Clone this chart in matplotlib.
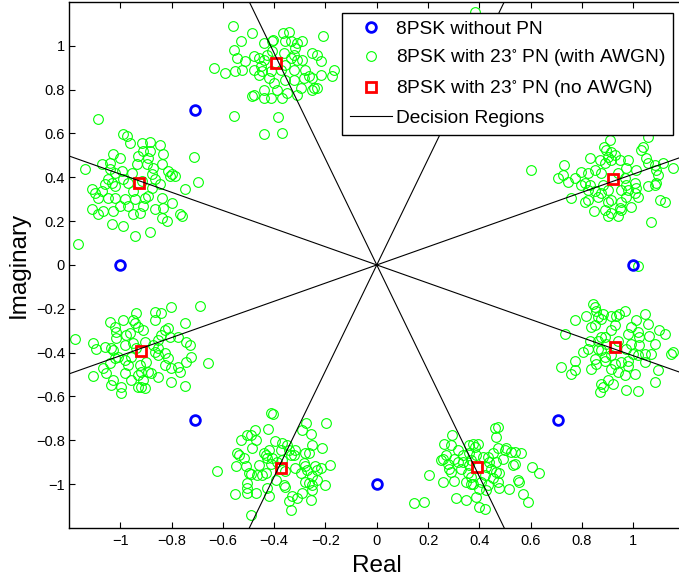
import numpy as np
import matplotlib
matplotlib.use("Agg")
import matplotlib.pyplot as plt
from matplotlib.ticker import FuncFormatter

plt.rcParams['font.family'] = ['Liberation Sans', 'DejaVu Sans']
plt.rcParams['mathtext.fontset'] = 'custom'
plt.rcParams['mathtext.rm'] = 'Liberation Sans'
plt.rcParams['mathtext.fallback'] = 'stixsans'

# ideal 8PSK points (no phase noise)
psk_x = [1.0, 0.707, 0.0, -0.707, -1.0, -0.707, 0.0, 0.707]
psk_y = [0.0, 0.707, 1.0, 0.707, 0.0, -0.707, -1.0, -0.707]

# 8PSK rotated by 23 deg phase noise, no AWGN (angles 23, 68, 113, ... deg)
pn_x = [0.921, 0.375, -0.391, -0.927, -0.921, -0.375, 0.391, 0.927]
pn_y = [0.391, 0.927, 0.921, 0.375, -0.391, -0.927, -0.921, -0.375]

# decision region boundaries (deg)
boundary_angles = [22.5, 67.5, 112.5, 157.5]

# AWGN samples, as offsets from each rotated point
awgn_23 = [(-0.013, 0.179), (-0.035, 0.149), (-0.026, 0.134), (-0.006, 0.126), (-0.019, 0.103),
           (-0.091, 0.096), (-0.052, 0.088), (-0.032, 0.073), (-0.006, 0.088), (0.006, 0.111),
           (0.026, 0.088), (0.058, 0.088), (0.117, 0.149), (0.110, 0.134), (0.130, 0.096),
           (0.136, 0.073), (0.162, 0.065), (0.195, 0.073), (0.234, 0.050), (0.169, 0.043),
           (0.175, 0.020), (0.169, -0.018), (0.162, -0.026), (0.136, -0.033), (0.084, -0.018),
           (0.091, -0.041), (0.084, -0.064), (0.097, -0.079), (0.071, -0.125), (0.026, -0.132),
           (0.032, -0.140), (-0.006, -0.155), (0.019, -0.170), (-0.019, -0.170), (-0.032, -0.140),
           (-0.074, -0.143), (-0.110, -0.102), (-0.097, -0.094), (-0.058, -0.079), (-0.045, -0.064),
           (-0.071, -0.056), (-0.097, -0.049), (-0.162, -0.087), (-0.214, 0.005), (-0.195, 0.020),
           (-0.175, -0.011), (-0.149, 0.005), (-0.123, 0.035), (-0.097, 0.027), (-0.071, 0.043),
           (-0.110, -0.018), (-0.091, -0.026), (-0.123, -0.026), (-0.045, 0.027), (-0.039, -0.026),
           (-0.019, -0.049), (-0.006, -0.094), (-0.019, -0.102), (0.045, 0.005), (0.052, -0.026),
           (0.058, -0.049), (0.052, -0.079), (0.032, -0.102), (0.032, -0.049), (0.091, 0.043),
           (0.052, 0.050), (0.019, 0.027), (-0.318, 0.043), (-0.191, 0.065), (0.149, -0.193),
           (0.182, -0.097), (0.201, -0.102), (0.097, -0.398), (0.136, 0.192)]

# mostly hidden behind the legend
awgn_68 = [(0.009, 0.227)]

awgn_113 = [(-0.169, 0.167), (-0.097, 0.137), (-0.138, 0.099), (-0.164, 0.061), (-0.153, 0.023),
            (-0.121, 0.008), (-0.134, -0.030), (-0.160, -0.038), (-0.199, -0.046), (-0.244, -0.023),
            (-0.088, 0.030), (-0.069, 0.023), (-0.049, 0.091), (-0.017, 0.099), (-0.013, 0.106),
            (0.026, 0.137), (0.048, 0.141), (0.035, 0.099), (0.055, 0.099), (0.081, 0.091),
            (0.100, 0.099), (0.074, 0.068), (0.182, 0.122), (0.139, 0.046), (0.159, 0.038),
            (0.172, 0.008), (0.100, 0.015), (0.081, 0.015), (0.055, 0.023), (0.029, 0.046),
            (-0.017, 0.053), (-0.036, 0.038), (-0.049, 0.015), (-0.062, -0.015), (-0.088, -0.030),
            (-0.069, -0.053), (-0.056, -0.038), (-0.023, -0.038), (0.016, -0.030), (0.035, -0.008),
            (0.068, -0.030), (0.113, -0.030), (0.126, -0.061), (0.107, -0.068), (0.139, -0.068),
            (0.172, -0.053), (0.224, -0.030), (0.217, -0.061), (0.146, -0.114), (0.159, -0.114),
            (0.139, -0.122), (0.094, -0.114), (0.081, -0.144), (0.042, -0.137), (0.022, -0.160),
            (0.003, -0.122), (-0.023, -0.160), (-0.049, -0.160), (-0.049, -0.122), (-0.095, -0.152),
            (-0.166, -0.243), (0.006, -0.246), (-0.049, -0.324), (0.022, -0.319), (0.035, -0.076),
            (0.068, -0.076), (-0.010, -0.091), (-0.030, -0.068), (-0.088, -0.144), (0.068, 0.038)]

awgn_158 = [(-0.159, 0.289), (-0.061, 0.220), (-0.048, 0.213), (-0.035, 0.182), (-0.211, 0.061),
            (-0.146, 0.084), (-0.113, 0.091), (-0.100, 0.129), (-0.074, 0.114), (0.010, 0.182),
            (0.043, 0.186), (0.017, 0.144), (0.043, 0.144), (0.082, 0.170), (0.095, 0.129),
            (-0.003, 0.122), (0.036, 0.114), (-0.009, 0.084), (0.030, 0.084), (0.056, 0.068),
            (0.088, 0.084), (0.114, 0.053), (0.127, 0.038), (0.140, 0.030), (0.121, 0.030),
            (-0.029, 0.046), (-0.068, 0.053), (-0.113, 0.061), (-0.094, 0.046), (-0.120, 0.015),
            (-0.107, 0.000), (-0.094, -0.015), (-0.133, -0.008), (-0.061, 0.015), (-0.042, 0.000),
            (0.049, 0.038), (0.062, 0.015), (0.049, -0.023), (0.036, -0.061), (0.082, -0.008),
            (0.010, 0.008), (-0.022, -0.038), (-0.185, -0.030), (-0.172, -0.046), (-0.146, -0.038),
            (-0.159, -0.068), (-0.120, -0.068), (-0.094, -0.068), (-0.055, -0.076), (-0.016, -0.076),
            (0.023, -0.068), (0.088, -0.068), (0.127, -0.091), (-0.074, -0.106), (-0.042, -0.106),
            (0.017, -0.106), (0.095, -0.114), (-0.185, -0.122), (-0.139, -0.129), (-0.159, -0.144),
            (-0.100, -0.129), (-0.022, -0.144), (0.004, -0.137), (0.062, -0.122), (0.088, -0.160),
            (0.108, -0.175), (0.160, -0.144), (0.166, -0.152), (-0.107, -0.190), (-0.061, -0.198),
            (-0.016, -0.243), (0.043, -0.225), (0.179, -0.030), (0.231, 0.005), (0.214, 0.116),
            (-0.239, -0.278)]

awgn_203 = [(-0.255, 0.053), (-0.186, 0.036), (-0.173, 0.006), (-0.114, 0.011), (-0.108, 0.003),
            (-0.121, 0.132), (-0.099, 0.109), (-0.095, 0.087), (-0.095, 0.056), (-0.069, 0.140),
            (-0.056, 0.071), (-0.043, 0.079), (-0.030, 0.140), (-0.017, 0.170), (-0.023, 0.125),
            (-0.010, 0.109), (0.009, 0.094), (0.055, 0.178), (0.055, 0.140), (0.081, 0.170),
            (0.120, 0.198), (0.230, 0.204), (0.172, 0.125), (0.094, 0.094), (0.107, 0.102),
            (0.081, 0.071), (0.068, 0.049), (0.113, 0.064), (0.146, 0.064), (0.178, 0.041),
            (0.191, 0.026), (0.198, -0.027), (0.178, -0.050), (0.263, -0.055), (0.146, -0.073),
            (0.120, -0.081), (0.152, -0.096), (0.172, -0.161), (0.120, -0.141), (0.068, -0.119),
            (0.042, -0.103), (0.029, -0.096), (0.003, -0.096), (-0.010, -0.111), (0.009, -0.134),
            (0.016, -0.172), (0.003, -0.164), (-0.010, -0.164), (-0.036, -0.134), (-0.062, -0.103),
            (-0.075, -0.164), (-0.075, -0.195), (-0.114, -0.157), (-0.108, -0.134), (-0.134, -0.103),
            (-0.147, -0.081), (-0.186, -0.116), (-0.121, -0.058), (-0.088, -0.027), (-0.062, -0.043),
            (-0.049, -0.065), (-0.036, -0.027), (-0.004, -0.065), (0.022, -0.050), (0.055, -0.005),
            (0.068, -0.020), (0.094, -0.012), (0.107, -0.035), (0.094, -0.065), (0.048, 0.026),
            (-0.030, 0.033), (-0.017, 0.011), (-0.101, -0.035), (-0.062, 0.026), (-0.140, 0.018),
            (0.016, 0.041), (0.068, 0.011)]

awgn_248 = [(-0.039, 0.251), (-0.030, 0.246), (-0.100, 0.175), (-0.117, 0.152), (-0.130, 0.152),
            (-0.156, 0.129), (-0.095, 0.129), (-0.049, 0.179), (-0.110, 0.091), (-0.022, 0.125),
            (0.006, 0.114), (0.026, 0.106), (0.000, 0.084), (0.032, 0.084), (0.058, 0.084),
            (0.052, 0.061), (0.084, 0.175), (0.100, 0.205), (0.117, 0.155), (0.178, 0.205),
            (0.123, 0.106), (0.162, 0.094), (0.097, 0.068), (0.110, 0.068), (0.039, 0.061),
            (-0.045, 0.084), (-0.058, 0.061), (-0.052, 0.046), (-0.032, 0.046), (-0.065, 0.068),
            (-0.169, 0.068), (-0.162, 0.061), (-0.143, 0.046), (-0.136, 0.008), (-0.175, 0.008),
            (-0.247, -0.015), (-0.123, -0.023), (-0.117, -0.027), (-0.091, -0.030), (-0.071, -0.030),
            (-0.058, -0.023), (-0.019, -0.053), (0.019, -0.015), (0.058, 0.000), (0.078, -0.023),
            (0.097, 0.008), (0.104, -0.008), (0.136, 0.008), (0.143, -0.008), (0.156, 0.000),
            (0.191, 0.015), (0.091, 0.023), (0.123, -0.038), (0.143, -0.053), (0.097, -0.061),
            (0.110, -0.068), (0.123, -0.076), (0.175, -0.079), (0.084, -0.114), (0.123, -0.099),
            (0.117, -0.144), (0.065, -0.137), (0.045, -0.129), (0.032, -0.149), (0.039, -0.190),
            (0.019, -0.084), (0.013, -0.076), (-0.052, -0.091), (-0.045, -0.129), (-0.097, -0.114),
            (-0.130, -0.091), (-0.130, -0.114), (-0.178, -0.119), (-0.117, -0.213), (-0.130, -0.068),
            (0.006, 0.038), (-0.013, 0.030), (-0.039, 0.018), (-0.084, 0.015)]

awgn_293 = [(-0.097, 0.144), (-0.101, 0.099), (-0.127, 0.106), (-0.121, 0.053), (-0.140, 0.030),
            (-0.134, 0.038), (-0.114, 0.015), (-0.108, -0.008), (-0.101, -0.023), (-0.186, -0.035),
            (-0.134, -0.068), (-0.088, -0.065), (-0.075, 0.076), (-0.056, 0.053), (-0.030, 0.099),
            (-0.017, 0.106), (0.003, 0.102), (-0.010, 0.091), (-0.030, 0.061), (-0.004, 0.053),
            (0.022, 0.046), (0.042, 0.046), (0.061, 0.061), (0.068, 0.175), (0.081, 0.182),
            (0.074, 0.137), (0.081, 0.084), (0.107, 0.076), (0.113, 0.084), (0.133, 0.068),
            (0.146, 0.068), (0.172, 0.065), (0.139, 0.008), (0.146, 0.015), (0.214, 0.000),
            (0.243, -0.030), (0.159, -0.061), (0.165, -0.068), (0.126, -0.099), (0.087, -0.096),
            (0.081, -0.068), (0.061, -0.053), (0.029, -0.038), (0.042, -0.084), (0.035, -0.106),
            (0.009, -0.099), (-0.004, -0.137), (0.009, -0.182), (0.029, -0.190), (-0.043, -0.152),
            (-0.082, -0.141), (-0.244, -0.163), (-0.205, -0.160), (-0.043, -0.068), (-0.023, -0.076),
            (-0.036, -0.030), (-0.023, -0.046), (-0.062, -0.008), (0.035, 0.000), (0.055, -0.008),
            (0.074, -0.023), (0.087, -0.030), (-0.030, 0.008), (-0.056, 0.023), (-0.075, 0.023),
            (-0.088, 0.038), (-0.023, 0.030), (0.074, 0.023), (0.100, 0.038), (0.178, -0.122),
            (0.198, -0.160), (-0.017, -0.076), (0.016, -0.068), (0.048, 0.023)]

awgn_338 = [(-0.084, 0.198), (-0.078, 0.182), (-0.071, 0.167), (-0.065, 0.137), (-0.110, 0.140),
            (-0.156, 0.122), (-0.091, 0.091), (-0.078, 0.099), (-0.052, 0.129), (-0.045, 0.152),
            (-0.013, 0.144), (0.006, 0.144), (0.019, 0.152), (0.039, 0.164), (0.117, 0.149),
            (0.084, 0.122), (0.130, 0.106), (0.065, 0.091), (0.052, 0.061), (0.091, 0.068),
            (0.097, 0.046), (0.136, 0.053), (0.175, 0.076), (0.195, 0.061), (0.156, 0.015),
            (0.097, 0.008), (0.065, 0.015), (0.045, -0.008), (0.071, -0.030), (0.117, -0.030),
            (0.091, -0.038), (0.143, -0.030), (0.221, -0.030), (0.227, -0.023), (0.169, -0.106),
            (0.156, -0.160), (0.091, -0.198), (0.045, -0.195), (0.078, -0.122), (0.039, -0.129),
            (0.013, -0.114), (-0.013, -0.099), (0.000, -0.076), (0.026, -0.068), (0.052, -0.061),
            (-0.013, -0.038), (-0.039, -0.046), (-0.052, -0.015), (-0.065, -0.008), (-0.104, -0.008),
            (-0.123, -0.023), (-0.156, -0.061), (-0.091, -0.099), (-0.169, -0.122), (-0.156, -0.103),
            (-0.208, -0.091), (-0.195, 0.058), (-0.097, 0.030), (-0.039, 0.046), (-0.032, 0.015),
            (-0.065, 0.030), (0.013, 0.030), (-0.013, 0.076), (-0.052, 0.046), (0.000, 0.099),
            (-0.026, -0.152), (-0.052, -0.167), (-0.058, -0.205), (-0.006, -0.167), (-0.045, -0.182),
            (-0.078, -0.053), (-0.071, -0.076), (-0.039, -0.061), (0.052, -0.084), (0.117, -0.068)]

awgn = [awgn_23, awgn_68, awgn_113, awgn_158, awgn_203, awgn_248, awgn_293, awgn_338]

rx_x = []
rx_y = []
for cx, cy, cluster in zip(pn_x, pn_y, awgn):
    d = np.array(cluster)
    rx_x.extend(cx + d[:, 0])
    rx_y.extend(cy + d[:, 1])

fig = plt.figure(figsize=(6.79, 5.81), dpi=100)
ax = fig.add_axes([0.1016, 0.0912, 0.9066, 0.9056])

ax.plot(psk_x, psk_y, 'o', color='#0000ff', mfc='none', ms=7, mew=2.0,
        label='8PSK without PN', zorder=3)
ax.plot(rx_x, rx_y, 'o', color='#00ff00', mfc='none', ms=7, mew=0.8,
        label='8PSK with 23$^{\\circ}$ PN (with AWGN)', zorder=2)
ax.plot(pn_x, pn_y, 's', color='#ff0000', mfc='none', ms=6.5, mew=2.0,
        label='8PSK with 23$^{\\circ}$ PN (no AWGN)', zorder=4)
for i, a in enumerate(boundary_angles):
    c, s = np.cos(np.radians(a)), np.sin(np.radians(a))
    ax.plot([-2 * c, 2 * c], [-2 * s, 2 * s], color='k', lw=0.8,
            label='Decision Regions' if i == 0 else None, zorder=5)

ax.set_xlim(-1.2, 1.2)
ax.set_ylim(-1.2, 1.2)
ticks = np.arange(-1, 1.01, 0.2)
ax.set_xticks(ticks)
ax.set_yticks(ticks)
fmt = FuncFormatter(lambda v, p: ('%g' % (round(v, 1) + 0.0)).replace('-', '\u2212'))
ax.xaxis.set_major_formatter(fmt)
ax.yaxis.set_major_formatter(fmt)
ax.tick_params(direction='in', length=4.5, width=0.8, labelsize=10.5,
               top=True, right=True)
ax.tick_params(axis='x', pad=4)
ax.tick_params(axis='y', pad=3)
for sp in ax.spines.values():
    sp.set_linewidth(1.0)

ax.set_xlabel('Real', fontsize=17.5)
ax.set_ylabel('Imaginary', fontsize=17.5)
ax.xaxis.set_label_coords(0.5, -0.052)
ax.yaxis.set_label_coords(-0.063, 0.5)

leg = ax.legend(loc='upper left', bbox_to_anchor=(342 / 679, 1 - 13 / 581),
                bbox_transform=fig.transFigure, borderaxespad=0,
                fontsize=13.8, fancybox=False, framealpha=1, edgecolor='k',
                handlelength=2.2, handletextpad=0.2, labelspacing=0.5,
                borderpad=0.4)
leg.get_frame().set_linewidth(1.0)

fig.savefig('out.png', dpi=100)
